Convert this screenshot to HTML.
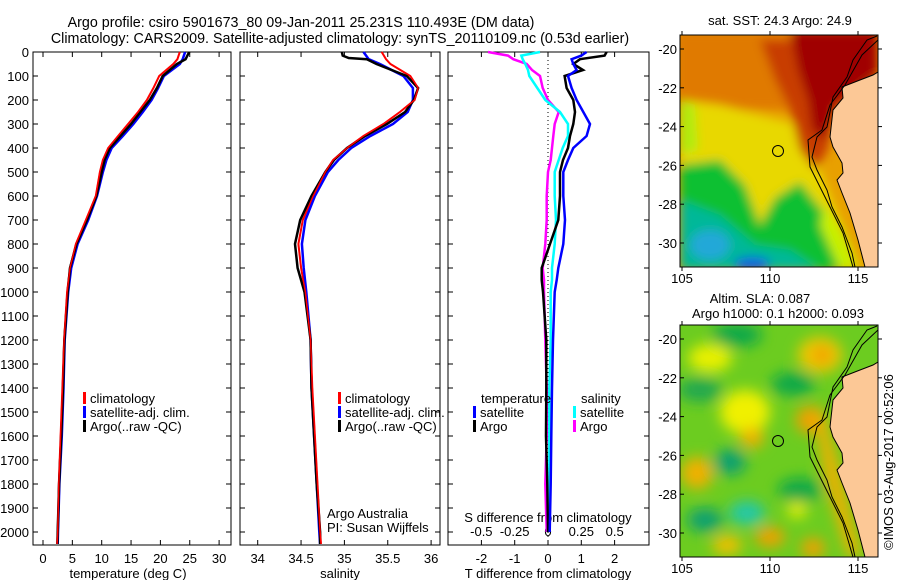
<!DOCTYPE html>
<html><head><meta charset="utf-8"><style>
html,body{margin:0;padding:0;background:#fff;}
svg{display:block;font-family:"Liberation Sans",sans-serif;}
text{font-size:13px;fill:#000;}
</style></head><body>
<svg id="fig" width="900" height="580" viewBox="0 0 900 580" xmlns="http://www.w3.org/2000/svg">
<defs>
<filter id="blurA" x="-20%" y="-20%" width="140%" height="140%"><feGaussianBlur stdDeviation="5"/></filter>
<filter id="blurB" x="-20%" y="-20%" width="140%" height="140%"><feGaussianBlur stdDeviation="7"/></filter>
<clipPath id="clipTop"><rect x="680" y="35" width="198" height="232"/></clipPath>
<clipPath id="clipBot"><rect x="680" y="325" width="198" height="232"/></clipPath>
</defs>
<text x="301" y="27" text-anchor="middle" style="font-size:14.3px">Argo profile: csiro 5901673_80 09-Jan-2011 25.231S 110.493E (DM data)</text>
<text x="340" y="43" text-anchor="middle" style="font-size:14.3px">Climatology: CARS2009. Satellite-adjusted climatology: synTS_20110109.nc (0.53d earlier)</text>

<g id="mapTop">
 <text x="780" y="25" text-anchor="middle">sat. SST: 24.3 Argo: 24.9</text>
 <g clip-path="url(#clipTop)">
  <rect x="680" y="35" width="198" height="232" fill="#e8a000"/>
  <g filter="url(#blurA)">
   <rect x="675" y="30" width="120" height="80" fill="#e07a00"/>
   <polygon points="680,100 720,105 760,115 800,125 820,170 840,220 860,270 680,270" fill="#e8d800"/>
   <polygon points="680,100 695,105 698,150 680,155" fill="#b0ec10"/>
   <polygon points="760,40 878,40 878,80 835,110 828,150 815,170 800,150 790,110 775,80" fill="#c83c00"/>
   <polygon points="790,30 878,30 878,72 835,105 825,140 812,130 808,100 798,70" fill="#a00000"/>
   <polygon points="680,165 720,160 745,185 760,225 775,198 800,182 822,210 840,245 852,270 680,270" fill="#10c030"/>
   <polygon points="680,200 720,215 755,245 790,250 820,270 680,270" fill="#00b898"/>
   <ellipse cx="710" cy="245" rx="20" ry="15" fill="#20a8d8"/>
   <ellipse cx="752" cy="264" rx="18" ry="7" fill="#1060e0"/>
   <polygon points="825,205 845,235 858,270 840,270 820,225" fill="#c8f000"/>
  </g>
  <polygon points="878,72 873,75 860,80 842,87 843,98 833,110 830,137 833,147 842,163 843,173 837,180 842,193 850,213 858,240 865,267 878,267" fill="#fcc896"/>
  <path d="M877,36 L867,40 L853,60 L847,77 L833,97 L827,127 L817,137 L812,157 L817,170 L827,190 L832,207 L842,227 L852,253 L855,267" fill="none" stroke="#000" stroke-width="1"/>
  <path d="M878,40 L862,55 L845,85 L830,105 L822,130 L808,140 L810,167 L823,193 L843,233 L853,267" fill="none" stroke="#000" stroke-width="1"/>
  <path d="M878,72 L873,75 L860,80 L842,87 L843,98 L833,110 L830,137 L833,147 L842,163 L843,173 L837,180 L842,193 L850,213 L858,240 L865,267" fill="none" stroke="#000" stroke-width="1"/>
  <circle cx="778" cy="151" r="5.5" fill="none" stroke="#000" stroke-width="1"/>
 </g>
 <rect x="680" y="35" width="198" height="232" fill="none" stroke="#000"/>
</g>

<g id="mapBot">
 <text x="760" y="303" text-anchor="middle">Altim. SLA: 0.087</text>
 <text x="778" y="318" text-anchor="middle">Argo h1000: 0.1 h2000: 0.093</text>
 <g clip-path="url(#clipBot)">
  <rect x="680" y="325" width="198" height="232" fill="#6ccc20"/>
  <g filter="url(#blurB)">
   <ellipse cx="737" cy="335" rx="25" ry="12" fill="#10a848"/>
   <ellipse cx="820" cy="355" rx="22" ry="18" fill="#f0c800"/>
   <ellipse cx="822" cy="355" rx="10" ry="9" fill="#f0a000"/>
   <ellipse cx="710" cy="358" rx="22" ry="14" fill="#e8f000"/>
   <ellipse cx="793" cy="384" rx="22" ry="12" fill="#10a848"/>
   <ellipse cx="700" cy="390" rx="22" ry="12" fill="#20a850"/>
   <ellipse cx="745" cy="412" rx="25" ry="22" fill="#f0f000"/>
   <ellipse cx="752" cy="438" rx="12" ry="10" fill="#f0b000"/>
   <ellipse cx="810" cy="420" rx="14" ry="14" fill="#f0a000"/>
   <ellipse cx="730" cy="462" rx="16" ry="13" fill="#10a070"/>
   <ellipse cx="697" cy="473" rx="16" ry="16" fill="#f0b000"/>
   <ellipse cx="800" cy="490" rx="22" ry="12" fill="#10a848"/>
   <ellipse cx="747" cy="513" rx="18" ry="12" fill="#20c8a8"/>
   <ellipse cx="705" cy="520" rx="18" ry="12" fill="#10a070"/>
   <ellipse cx="797" cy="510" rx="10" ry="8" fill="#e8f000"/>
   <ellipse cx="770" cy="537" rx="15" ry="10" fill="#f0a000"/>
   <ellipse cx="813" cy="548" rx="12" ry="10" fill="#f0a000"/>
   <ellipse cx="727" cy="545" rx="15" ry="10" fill="#f0c000"/>
   <polygon points="822,405 840,470 855,530 862,557 848,557 825,480 815,420" fill="#f0b000"/>
  </g>
  <polygon points="878,362 873,365 860,370 842,377 843,388 833,400 830,427 833,437 842,453 843,463 837,470 842,483 850,503 858,530 865,557 878,557" fill="#fcc896"/>
  <path d="M877,326 L867,330 L853,350 L847,367 L833,387 L827,417 L817,427 L812,447 L817,460 L827,480 L832,497 L842,517 L852,543 L855,557" fill="none" stroke="#000" stroke-width="1"/>
  <path d="M878,330 L862,345 L845,375 L830,395 L822,420 L808,430 L810,457 L823,483 L843,523 L853,557" fill="none" stroke="#000" stroke-width="1"/>
  <path d="M878,362 L873,365 L860,370 L842,377 L843,388 L833,400 L830,427 L833,437 L842,453 L843,463 L837,470 L842,483 L850,503 L858,530 L865,557" fill="none" stroke="#000" stroke-width="1"/>
  <circle cx="778" cy="441" r="5.5" fill="none" stroke="#000" stroke-width="1"/>
 </g>
 <rect x="680" y="325" width="198" height="232" fill="none" stroke="#000"/>
</g>
<text transform="translate(893,550) rotate(-90)" x="0" y="0">©IMOS 03-Aug-2017 00:52:06</text>
</svg>
<script>
// ---- profile data ----
const depths = [0,30,50,100,150,200,250,300,350,400,450,500,600,700,800,900,1000,1200,1400,1600,1800,2000,2050];
const tempClim = [23.3,22.9,22.2,19.8,18.8,17.7,16.2,14.5,12.8,11.1,10.2,9.7,9.0,7.3,5.6,4.6,4.1,3.6,3.3,3.0,2.7,2.5,2.4];
const tempSat  = [24.2,23.8,23.3,20.6,19.6,18.5,17.0,15.4,13.6,11.7,10.8,10.2,9.2,7.7,5.9,4.8,4.3,3.7,3.5,3.2,2.8,2.55,2.5];
const tempArgo = [24.9,24.3,22.8,20.4,19.4,18.2,16.6,15.0,13.2,11.4,10.5,10.0,9.1,7.5,5.7,4.6,4.2,3.65,3.4,3.1,2.75,2.5,2.45];
const salClim = [35.43,35.48,35.53,35.76,35.85,35.81,35.64,35.45,35.22,35.03,34.87,34.78,34.64,34.52,34.47,34.50,34.55,34.61,34.63,34.66,34.69,34.72,34.73];
const salSat  = [35.22,35.28,35.41,35.68,35.79,35.79,35.73,35.56,35.30,35.08,34.93,34.81,34.66,34.55,34.51,34.53,34.56,34.61,34.62,34.65,34.68,34.71,34.72];
const salArgoDepths = [0,15,25,30,50,100,150,200,250,300,350,400,450,500,600,700,800,900,1000,1200,1400,1600,1800,2000,2050];
const salArgo = [34.97,34.98,35.05,35.26,35.37,35.72,35.85,35.80,35.70,35.49,35.24,35.03,34.88,34.78,34.62,34.49,34.43,34.46,34.54,34.61,34.62,34.65,34.68,34.72,34.72];
const diffDepths = [0,15,30,50,75,100,150,200,250,300,350,400,450,500,600,700,800,900,950,1000,1200,1400,1600,1800,2000];
const dTArgo = [1.76,1.7,0.96,0.76,1.05,0.5,0.56,0.76,0.81,0.76,0.66,0.6,0.45,0.36,0.36,0.31,0.06,-0.19,-0.19,-0.15,-0.05,-0.05,-0.06,-0.02,0];
const dTSat  = [1.16,1.0,0.71,0.76,0.86,0.6,0.71,0.86,1.06,1.26,1.16,0.76,0.6,0.46,0.46,0.51,0.46,0.31,0.26,0.2,0.15,0.12,0.1,0.08,0.05];
const dSSat  = [-0.06,-0.2,-0.19,-0.17,-0.15,-0.14,-0.08,-0.02,0.09,0.15,0.15,0.11,0.08,0.05,0.05,0.06,0.05,0.03,0.03,0.02,0.02,0.01,0.01,0.01,0];
const dSArgo = [-0.45,-0.3,-0.26,-0.16,-0.12,-0.06,-0.04,0,0.08,0.05,0.04,0.03,0.02,0,-0.01,-0.01,-0.02,-0.04,-0.03,-0.03,-0.02,-0.01,-0.01,-0.02,-0.01];
const depthTicks = [0,100,200,300,400,500,600,700,800,900,1000,1100,1200,1300,1400,1500,1600,1700,1800,1900,2000];
const tempTicks = [0,5,10,15,20,25,30];
const salTicks = [34,34.5,35,35.5,36];
const tdTicks = [-2,-1,0,1,2];
const sdTicks = [-0.5,-0.25,0,0.25,0.5];
const sdTickLabels = ["-0.5","-0.25","0","0.25","0.5"];
const latTicks = [-20,-22,-24,-26,-28,-30];
const lonTicks = [105,110,115];

const NS = "http://www.w3.org/2000/svg";
const svg = document.getElementById('fig');
function mk(tag, attrs, parent){const e=document.createElementNS(NS,tag);for(const k in attrs)e.setAttribute(k,attrs[k]);(parent||svg).appendChild(e);return e;}
const TOP=52, BOT=545;
const yD = d => TOP + d*0.24;
const xT = t => 43 + t*5.87;
const xS = s => 257.7 + (s-34)*86.7;
const xTD = v => 548 + v*33.3;
const xSD = v => 548 + v*133.3;

function panel(x0,x1,name){
  const g = mk('g',{});
  
  
  const r = mk('rect',{x:x0,y:TOP,width:x1-x0,height:BOT-TOP,fill:'none',stroke:'#000','stroke-width':1},g);
  
  
  depthTicks.forEach(d=>{
    mk('line',{x1:x0,x2:x0+5,y1:yD(d),y2:yD(d),stroke:'#000'},g);
    mk('line',{x1:x1,x2:x1-5,y1:yD(d),y2:yD(d),stroke:'#000'},g);
  });
  return g;
}
function line(g, xs, ds, fx, color, w, name){
  const p = mk('polyline',{points: xs.map((v,i)=>fx(v).toFixed(1)+','+yD(ds[i]).toFixed(1)).join(' '),fill:'none',stroke:color,'stroke-width':w},g);
  
  
}
function txt(g,x,y,s,anchor,name){
  const t = mk('text',{x:x,y:y,'text-anchor':anchor||'start'},g);
  t.textContent = s;
  
  
  return t;
}
function legendItem(g,x,y,color,label,name){
  mk('rect',{x:x,y:y-11,width:3,height:12,fill:color},g);
  txt(g,x+7,y,label,'start',name);
}

// Panel 1: temperature
const g1 = panel(33,231,'temperature-panel');
depthTicks.forEach(d=>txt(g1,29,yD(d)+5,String(d),'end','depth-tick-label'));
tempTicks.forEach(t=>{
  mk('line',{x1:xT(t),x2:xT(t),y1:BOT,y2:BOT-5,stroke:'#000'},g1);
  mk('line',{x1:xT(t),x2:xT(t),y1:TOP,y2:TOP+5,stroke:'#000'},g1);
  txt(g1,xT(t),563,String(t),'middle','temp-tick-label');
});
txt(g1,128,578,'temperature (deg C)','middle','temperature-axis-title');
line(g1,tempClim,depths,xT,'#ff0000',2,'temp-climatology-line');
line(g1,tempSat,depths,xT,'#0000ff',2.5,'temp-satellite-line');
line(g1,tempArgo,depths,xT,'#000000',2.5,'temp-argo-line');
line(g1,tempClim,depths,xT,'#ff0000',1.5,'temp-climatology-line-top');
legendItem(g1,83,403,'#ff0000','climatology','legend-climatology');
legendItem(g1,83,417,'#0000ff','satellite-adj. clim.','legend-satellite');
legendItem(g1,83,431,'#000000','Argo(..raw -QC)','legend-argo');

// Panel 2: salinity
const g2 = panel(240,440,'salinity-panel');
salTicks.forEach(s=>{
  mk('line',{x1:xS(s),x2:xS(s),y1:BOT,y2:BOT-5,stroke:'#000'},g2);
  mk('line',{x1:xS(s),x2:xS(s),y1:TOP,y2:TOP+5,stroke:'#000'},g2);
  txt(g2,xS(s),563,String(s),'middle','salinity-tick-label');
});
txt(g2,340,578,'salinity','middle','salinity-axis-title');
line(g2,salClim,depths,xS,'#ff0000',2,'sal-climatology-line');
line(g2,salSat,depths,xS,'#0000ff',2.5,'sal-satellite-line');
line(g2,salArgo,salArgoDepths,xS,'#000000',2.5,'sal-argo-line');
line(g2,salClim,depths,xS,'#ff0000',1.5,'sal-climatology-line-top');
legendItem(g2,338,403,'#ff0000','climatology','legend-climatology-2');
legendItem(g2,338,417,'#0000ff','satellite-adj. clim.','legend-satellite-2');
legendItem(g2,338,431,'#000000','Argo(..raw -QC)','legend-argo-2');
txt(g2,327,518,'Argo Australia','start','credit-argo-australia');
txt(g2,327,532,'PI: Susan Wijffels','start','credit-pi');

// Panel 3: differences
const g3 = panel(448,649,'difference-panel');
mk('line',{x1:548,x2:548,y1:TOP,y2:BOT,stroke:'#000','stroke-dasharray':'1,3'},g3);
tdTicks.forEach(t=>{
  mk('line',{x1:xTD(t),x2:xTD(t),y1:BOT,y2:BOT-5,stroke:'#000'},g3);
  mk('line',{x1:xTD(t),x2:xTD(t),y1:TOP,y2:TOP+5,stroke:'#000'},g3);
  txt(g3,xTD(t),563,String(t),'middle','tdiff-tick-label');
});
sdTicks.forEach((s,i)=>txt(g3,xSD(s),536,sdTickLabels[i],'middle','sdiff-tick-label'));
txt(g3,548,522,'S difference from climatology','middle','sdiff-axis-title');
txt(g3,548,578,'T difference from climatology','middle','tdiff-axis-title');
line(g3,dSArgo,diffDepths,xSD,'#ff00ff',2.5,'sdiff-argo-line');
line(g3,dSSat,diffDepths,xSD,'#00ffff',2.5,'sdiff-satellite-line');
line(g3,dTArgo,diffDepths,xTD,'#000000',2.5,'tdiff-argo-line');
line(g3,dTSat,diffDepths,xTD,'#0000ff',2.5,'tdiff-satellite-line');
txt(g3,481,403,'temperature','start','legend-temperature-heading');
legendItem(g3,473,417,'#0000ff','satellite','legend-t-satellite');
legendItem(g3,473,431,'#000000','Argo','legend-t-argo');
txt(g3,581,403,'salinity','start','legend-salinity-heading');
legendItem(g3,573,417,'#00ffff','satellite','legend-s-satellite');
legendItem(g3,573,431,'#ff00ff','Argo','legend-s-argo');

// Map axes
const xLon = l => 682 + (l-105)*17.6;
[[35,267,49],[325,557,339]].forEach(([t,b,y20],k)=>{
  const g = mk('g',{});
  
  
  latTicks.forEach(la=>{
    const y = y20 + (-20-la)*19.4;
    mk('line',{x1:680,x2:684,y1:y,y2:y,stroke:'#000'},g);
    mk('line',{x1:878,x2:882,y1:y,y2:y,stroke:'#000'},g);
    txt(g,677,y+5,String(la),'end','lat-tick-label');
  });
  lonTicks.forEach(lo=>{
    mk('line',{x1:xLon(lo),x2:xLon(lo),y1:t,y2:t-4,stroke:'#000'},g);
    mk('line',{x1:xLon(lo),x2:xLon(lo),y1:b,y2:b+4,stroke:'#000'},g);
    txt(g,xLon(lo),b+16,String(lo),'middle','lon-tick-label');
  });
});
</script>
</body></html>
